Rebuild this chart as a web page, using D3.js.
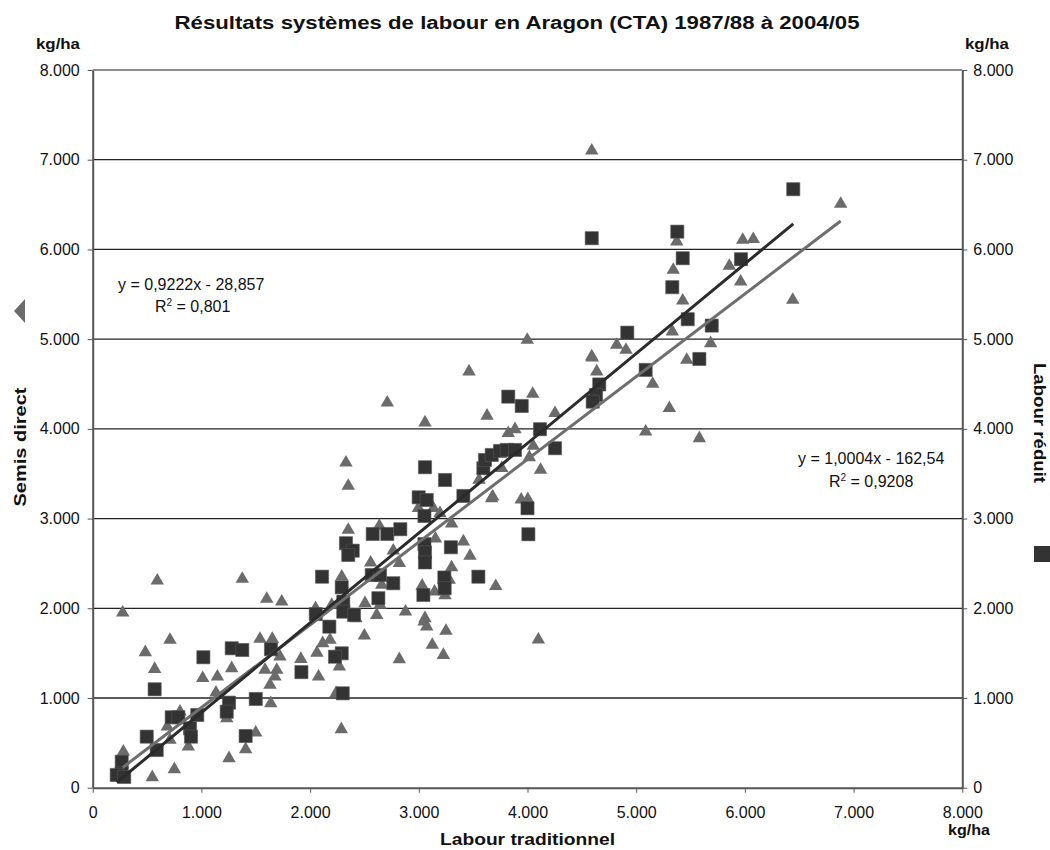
<!DOCTYPE html>
<html>
<head>
<meta charset="utf-8">
<script src="https://cdn.jsdelivr.net/npm/d3@7"></script>
<style>
	body { margin: 0; background: #fff; }
	svg { font-family: "Liberation Sans", Arial, sans-serif; }
	.axis path, .axis line { stroke: #555; }
	.axis text { font-size: 16px; fill: #111; }
</style>
</head>
<body>
<div id="chart"></div>
<script>
var title = 'Résultats systèmes de labour en Aragon (CTA) 1987/88 à 2004/05';
var xTicks = [0, 1000, 2000, 3000, 4000, 5000, 6000, 7000, 8000];
var yTicks = [0, 1000, 2000, 3000, 4000, 5000, 6000, 7000, 8000];

// Labour traditionnel (x) vs semis direct (y) - triangles
var semisDirect = [
	[594,2308],[1376,2327],[276,1951],[1601,2104],[1739,2074],[2050,2000],[711,1647],[484,1509],
	[570,1323],[1539,1658],[1652,1658],[1723,1460],[1585,1312],[1693,1312],[1677,1237],[1631,1145],
	[1915,1434],[2063,1503],[2078,1237],[1279,1331],[1012,1220],[1147,1237],[1134,1059],[803,847],
	[686,680],[711,532],[880,457],[1233,774],[1407,428],[1500,613],[1254,328],[1638,941],
	[282,401],[751,205],[548,116],
	[3057,4070],[3628,4146],[3823,3951],[3885,3995],[2330,3623],[2351,3363],[3670,3226],[3942,3211],
	[4003,3215],[4053,3809],[4120,3542],[2351,2873],[2637,2918],[3302,2944],[3410,2743],[3471,2583],
	[3302,2455],[3153,2775],[2821,2502],[2765,2642],[2557,2508],[2291,2352],[2659,2260],[2643,2037],
	[2613,1925],[2505,2056],[2422,1888],[2878,1962],[3031,2250],[3145,2185],[3241,2143],[3708,2246],
	[2199,2037],[3048,1851],[3073,1795],[3250,1747],[3124,1591],[3226,1479],[2499,1695],[2183,1647],
	[2116,1610],[2269,1349],[2821,1431],[2238,1052],[2287,651],[4100,1650],
	[3998,4991],[4590,4805],[4637,4638],[3462,4638],[4048,4389],[4253,4174],[4017,3683],[3554,3430],
	[3680,3244],[3763,3561],[2996,3115],[3134,3115],[3195,3059],[3280,2316],[3057,1888],[2710,4292],
	[4591,7101],[6881,6507],[5980,6106],[6077,6114],[5373,6087],[5341,5772],[5857,5816],[5961,5641],
	[6440,5437],[5428,5429],[5332,5084],[4821,4935],[4906,4880],[5685,4954],[4596,4794],[5465,4768],
	[5152,4500],[5305,4230],[5087,3969],[5581,3895]
];

// Labour traditionnel (x) vs labour reduit (y) - squares
var labourReduit = [
	[2110,2352],[2052,1935],[1018,1454],[1279,1554],[1376,1535],[1640,1543],[1920,1288],[570,1097],
	[1500,989],[1254,948],[1233,847],[962,810],[727,785],[788,785],[895,662],[904,569],
	[497,569],[589,420],[1407,576],[267,290],[267,160],[221,142],[290,120],
	[3057,3572],[3241,3430],[3410,3252],[2999,3237],[3073,3207],[3052,3029],[4000,3115],[4008,2825],
	[2576,2828],[2710,2828],[2830,2881],[2330,2725],[2392,2642],[2351,2594],[3052,2715],[3057,2622],
	[3057,2511],[3295,2680],[2291,2234],[2567,2371],[2643,2371],[2765,2279],[2305,2074],[2305,1962],
	[2404,1925],[2628,2112],[3235,2343],[3238,2223],[3042,2148],[3548,2352],[2177,1795],[2291,1498],
	[2229,1460],[2300,1052],
	[3823,4359],[3947,4255],[4115,3996],[4253,3784],[3594,3561],[3609,3653],[3671,3709],[3747,3754],
	[3809,3765],[3885,3765],
	[6445,6671],[4591,6125],[5378,6198],[5428,5902],[5964,5891],[5332,5579],[5474,5222],[5695,5151],
	[4918,5072],[5087,4657],[5581,4779],[4660,4495],[4630,4378],[4600,4303]
];

// trendline coefficients [slope, intercept] and labels
var trendSemis = [0.9222, -28.857];
var trendReduit = [1.0004, -162.54];
var labelSemis = ['y = 0,9222x - 28,857', '0,801'];
var labelReduit = ['y = 1,0004x - 162,54', '0,9208'];

var width = 1050;
var height = 850;
var plotLeft = 92.7, plotRight = 962.3, plotTop = 70, plotBottom = 787.7;

var locale = d3.formatLocale({decimal: ',', thousands: '.', grouping: [3], currency: ['', '']});
var fmt = locale.format(',');

var x = d3.scaleLinear().domain([0, 8000]).range([plotLeft, plotRight]);
var y = d3.scaleLinear().domain([0, 8000]).range([plotBottom, plotTop]);

var svg = d3.select('#chart')
	.append('svg')
	.attr('width', width)
	.attr('height', height);

// horizontal gridlines
svg.append('g')
	.selectAll('line')
	.data(yTicks.slice(1))
	.enter()
	.append('line')
	.attr('x1', x(0))
	.attr('x2', x(8000))
	.attr('y1', function(d) { return y(d); })
	.attr('y2', function(d) { return y(d); })
	.attr('stroke', function(d) { return d === 8000 ? '#666' : '#222'; })
	.attr('stroke-width', 1.3);

svg.append('g')
	.attr('class', 'axis')
	.attr('transform', 'translate(0,' + plotBottom + ')')
	.call(d3.axisBottom(x).tickValues(xTicks).tickFormat(fmt).tickSize(5).tickPadding(14).tickSizeOuter(0));

svg.append('g')
	.attr('class', 'axis')
	.attr('transform', 'translate(' + plotLeft + ',0)')
	.call(d3.axisLeft(y).tickValues(yTicks).tickFormat(fmt).tickSize(5).tickPadding(8).tickSizeOuter(0));

svg.append('g')
	.attr('class', 'axis')
	.attr('transform', 'translate(' + plotRight + ',0)')
	.call(d3.axisRight(y).tickValues(yTicks).tickFormat(fmt).tickSize(5).tickPadding(6).tickSizeOuter(0));

svg.selectAll('.axis path').attr('stroke-width', 2);

// markers
var tri = d3.symbol().type(d3.symbolTriangle).size(78);
var sq = d3.symbol().type(d3.symbolSquare).size(172);

svg.append('g')
	.selectAll('path')
	.data(semisDirect)
	.enter()
	.append('path')
	.attr('d', tri)
	.attr('transform', function(d) { return 'translate(' + x(d[0]) + ',' + y(d[1]) + ')'; })
	.attr('fill', '#6b6b6b');

svg.append('g')
	.selectAll('path')
	.data(labourReduit)
	.enter()
	.append('path')
	.attr('d', sq)
	.attr('transform', function(d) { return 'translate(' + x(d[0]) + ',' + y(d[1]) + ')'; })
	.attr('fill', '#333')
	.attr('stroke', '#555')
	.attr('stroke-width', 0.6);

// trendlines over the data extent
function trend(data, coef, color) {
	var ext = d3.extent(data, function(d) { return d[0]; });
	var line = d3.line()
		.x(function(d) { return x(d); })
		.y(function(d) { return y(coef[0] * d + coef[1]); });
	svg.append('path')
		.datum(ext)
		.attr('d', line)
		.attr('fill', 'none')
		.attr('stroke', color)
		.attr('stroke-width', 3);
}
trend(semisDirect, trendSemis, '#6e6e6e');
trend(labourReduit, trendReduit, '#2b2b2b');

// equation labels
function eqLabel(lines, x1, y1, x2, y2) {
	svg.append('text')
		.attr('x', x1).attr('y', y1)
		.style('font-size', '16px')
		.attr('fill', '#111')
		.text(lines[0]);
	var t = svg.append('text')
		.attr('x', x2).attr('y', y2)
		.style('font-size', '16px')
		.attr('fill', '#111');
	t.append('tspan').text('R');
	t.append('tspan').attr('dy', -6).style('font-size', '10px').text('2');
	t.append('tspan').attr('dy', 6).text(' = ' + lines[1]);
}
eqLabel(labelSemis, 118, 290, 155, 312);
eqLabel(labelReduit, 798, 464, 829, 487);

// bold labels are wider in the original, stretch them to its widths
function boldText(tx, px, py, size, len, anchor, rot) {
	return svg.append('text')
		.attr('transform', 'translate(' + px + ',' + py + ')' + (rot ? ' rotate(' + rot + ')' : ''))
		.attr('text-anchor', anchor)
		.attr('textLength', len)
		.attr('lengthAdjust', 'spacingAndGlyphs')
		.style('font-size', size + 'px')
		.style('font-weight', 'bold')
		.attr('fill', '#111')
		.text(tx);
}

boldText(title, 517, 29, 18, 685, 'middle');
boldText('Labour traditionnel', (plotLeft + plotRight) / 2, 845, 16, 175, 'middle');
boldText('Semis direct', 26, 447, 16, 119, 'middle', -90);
boldText('Labour réduit', 1034, 423, 16, 120, 'middle', 90);
boldText('kg/ha', 80, 49, 15, 44, 'end');
boldText('kg/ha', 965, 49, 15, 44, 'start');
boldText('kg/ha', 969, 835, 15, 42, 'middle');

// legend keys beside the axis titles
svg.append('path')
	.attr('d', 'M14,311L25,299L25,323Z')
	.attr('fill', '#6b6b6b');

svg.append('rect')
	.attr('x', 1034)
	.attr('y', 546)
	.attr('width', 16)
	.attr('height', 16)
	.attr('fill', '#333');
</script>
</body>
</html>
